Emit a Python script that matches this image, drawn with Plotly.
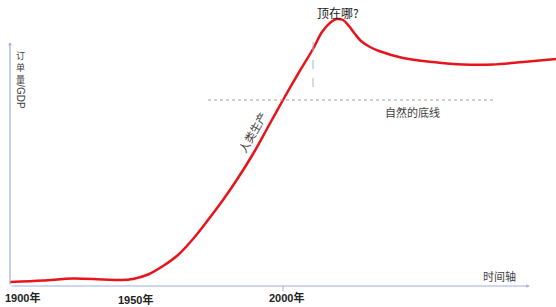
import plotly.graph_objects as go

# --- data (years vs. relative level) ---
years = [1909, 1920, 1930, 1940, 1946, 1950, 1955, 1960, 1965, 1970, 1975, 1980,
         1985, 1990, 1995, 2000, 2005, 2010, 2013, 2016, 2018, 2020, 2022, 2024,
         2026, 2029, 2032, 2040, 2050, 2060, 2070, 2080, 2091]
level = [4, 5.5, 7.5, 6.5, 6, 7, 11.5, 20, 31, 47, 66, 86,
         108, 132, 159, 186, 212, 237, 254, 264, 267, 266, 260, 252,
         245, 239, 235, 228, 224, 221.5, 221.5, 224, 227]

tick_years = [1909, 1950, 2000]
tick_text = ["1900年", "1950年", "2000年"]

y_title_chars = ["订", "单", "量"]
y_title_tail = "/GDP"

baseline_level = 186          # 自然的底线
baseline_span = [1975, 2070]
peak_marker_year = 2010
peak_marker_span = [199, 246]

x_range = [1905.67, 2091.0]
y_range = [-21, 286]
axis_origin = (1909, 0)
x_axis_end = 2082.3
y_axis_end = 244

AXIS_COLOR = "#9fb0dc"
TEXT_COLOR = "#404040"
FONT = "Liberation Sans, Noto Sans CJK SC, sans-serif"
CJK = "Noto Sans CJK SC, sans-serif"

fig = go.Figure()
fig.add_trace(go.Scatter(
    x=years, y=level, mode="lines",
    line=dict(color="#e8141c", width=2.5, shape="spline", smoothing=0.9),
    hoverinfo="skip", showlegend=False,
))

shapes = [
    dict(type="line", xref="x", yref="y", x0=baseline_span[0], x1=baseline_span[1],
         y0=baseline_level, y1=baseline_level,
         line=dict(color="#a0a0a0", width=1, dash="dot")),
    dict(type="line", xref="x", yref="y", x0=peak_marker_year, x1=peak_marker_year,
         y0=peak_marker_span[0], y1=peak_marker_span[1],
         line=dict(color="#a8b6d0", width=1, dash="dash")),
    dict(type="line", xref="x", yref="y", x0=2000, x1=2000, y0=0, y1=-5,
         line=dict(color=AXIS_COLOR, width=1)),
]

annotations = [
    # x axis arrow
    dict(x=x_axis_end, y=0, ax=axis_origin[0], ay=axis_origin[1], xref="x", yref="y",
         axref="x", ayref="y", showarrow=True, arrowhead=2, arrowsize=0.6,
         arrowwidth=1.2, arrowcolor=AXIS_COLOR, text=""),
    # y axis arrow
    dict(x=axis_origin[0], y=y_axis_end, ax=axis_origin[0], ay=axis_origin[1], xref="x", yref="y",
         axref="x", ayref="y", showarrow=True, arrowhead=2, arrowsize=0.6,
         arrowwidth=1.2, arrowcolor=AXIS_COLOR, text=""),
    dict(x=2072.3, y=10, xref="x", yref="y", text="时间轴", showarrow=False,
         font=dict(family=CJK, size=11, color=TEXT_COLOR)),
    dict(x=2043, y=174, xref="x", yref="y", text="自然的底线", showarrow=False,
         font=dict(family=CJK, size=11, color=TEXT_COLOR)),
    dict(x=2018.3, y=274, xref="x", yref="y", text="顶在哪?", showarrow=False,
         font=dict(family=CJK, size=12, color="#202020")),
    dict(x=1989.7, y=154, xref="x", yref="y", text="人类生产", showarrow=False,
         textangle=-60, font=dict(family=CJK, size=11, color=TEXT_COLOR)),
    dict(x=1912.6, y=189, xref="x", yref="y", text=y_title_tail, showarrow=False,
         textangle=90, font=dict(family=FONT, size=10, color=TEXT_COLOR)),
]

# vertical stacked CJK part of the y-axis title
for k, ch in enumerate(y_title_chars):
    annotations.append(dict(
        x=1912.6, y=231, xref="x", yref="y", yshift=-12 * k, text=ch, showarrow=False,
        font=dict(family=CJK, size=9, color=TEXT_COLOR),
    ))

for i, (ty, tt) in enumerate(zip(tick_years, tick_text)):
    annotations.append(dict(
        x=ty, y=-11, xref="x", yref="y", text="<b>" + tt + "</b>", showarrow=False,
        xanchor="left" if i == 0 else "center", xshift=-7 if i == 0 else 3,
        yshift=-2 if i == 1 else 0,
        font=dict(family=FONT, size=11, color="#222222"),
    ))

fig.update_layout(
    width=556, height=307, margin=dict(l=0, r=0, t=0, b=0),
    paper_bgcolor="white", plot_bgcolor="white",
    xaxis=dict(range=x_range, visible=False, fixedrange=True),
    yaxis=dict(range=y_range, visible=False, fixedrange=True),
    shapes=shapes, annotations=annotations, showlegend=False,
)

fig.write_html("out.html")
